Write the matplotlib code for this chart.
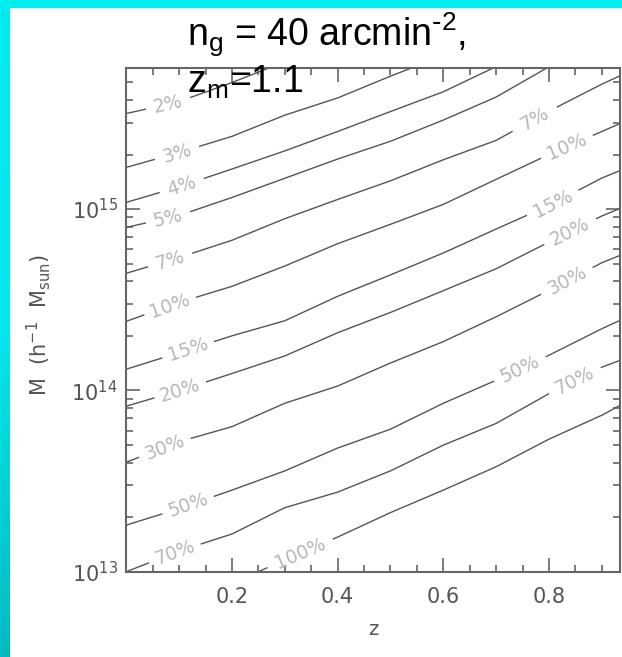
import numpy as np
import matplotlib.pyplot as plt
from matplotlib.colors import LinearSegmentedColormap
from matplotlib.patches import Rectangle
from matplotlib.ticker import FixedLocator, MultipleLocator, LogLocator, NullFormatter

plt.rcParams['font.family'] = ['DejaVu Sans']
plt.rcParams['mathtext.default'] = 'regular'

# contours of fractional mass error: z vs log10(M / h^-1 Msun)
z_2 = [0.0, 0.1, 0.2, 0.28]
logm_2 = [15.527, 15.593, 15.698, 15.79]

z_3 = [0.0, 0.1, 0.2, 0.3, 0.4, 0.5, 0.55]
logm_3 = [15.230, 15.312, 15.401, 15.518, 15.613, 15.733, 15.79]

z_4 = [0.0, 0.1, 0.2, 0.3, 0.4, 0.5, 0.6, 0.7]
logm_4 = [15.037, 15.123, 15.221, 15.321, 15.428, 15.538, 15.647, 15.786]

z_5 = [0.0, 0.1, 0.2, 0.3, 0.4, 0.5, 0.6, 0.7, 0.8]
logm_5 = [14.899, 14.965, 15.064, 15.170, 15.276, 15.374, 15.491, 15.618, 15.785]

z_full = [0.0, 0.1, 0.2, 0.3, 0.4, 0.5, 0.6, 0.7, 0.8, 0.9, 0.935]
logm_7 = [14.646, 14.733, 14.828, 14.947, 15.053, 15.156, 15.272, 15.379, 15.540, 15.689, 15.736]
logm_10 = [14.381, 14.485, 14.574, 14.686, 14.809, 14.916, 15.026, 15.164, 15.301, 15.428, 15.472]
logm_15 = [14.117, 14.208, 14.301, 14.384, 14.519, 14.637, 14.758, 14.890, 15.020, 15.171, 15.213]
logm_20 = [13.913, 13.999, 14.093, 14.190, 14.318, 14.430, 14.550, 14.671, 14.818, 14.962, 15.004]
logm_30 = [13.604, 13.717, 13.800, 13.929, 14.024, 14.151, 14.269, 14.406, 14.552, 14.704, 14.745]
logm_50 = [13.257, 13.348, 13.450, 13.556, 13.682, 13.786, 13.929, 14.056, 14.194, 14.340, 14.387]
logm_70 = [13.000, 13.114, 13.208, 13.353, 13.439, 13.556, 13.698, 13.818, 13.982, 14.128, 14.166]

z_100 = [0.25, 0.3, 0.4, 0.5, 0.6, 0.7, 0.8, 0.9, 0.935]
logm_100 = [13.0, 13.066, 13.191, 13.326, 13.450, 13.579, 13.731, 13.863, 13.918]

level_names = ['2%', '3%', '4%', '5%', '7%', '10%', '15%', '20%', '30%', '50%', '70%', '100%']
level_z = [z_2, z_3, z_4, z_5, z_full, z_full, z_full, z_full, z_full, z_full, z_full, z_100]
level_logm = [logm_2, logm_3, logm_4, logm_5, logm_7, logm_10, logm_15, logm_20,
              logm_30, logm_50, logm_70, logm_100]

# where each contour's labels sit along z
label_at = [[0.079], [0.096], [0.105], [0.079], [0.083, 0.773], [0.083, 0.834],
            [0.117, 0.807], [0.102, 0.840], [0.073, 0.834], [0.117, 0.745],
            [0.092, 0.849], [0.329]]

W, H = 622, 657
fig = plt.figure(figsize=(W / 100, H / 100), dpi=100)
fig.patch.set_facecolor('white')

# cyan frame of the slide
fig.patches.append(Rectangle((0, 1 - 8 / H), 1, 8 / H, transform=fig.transFigure,
                             facecolor='#00eef0', edgecolor='none'))
strip = fig.add_axes([0, 0, 10 / W, 1 - 8 / H])
strip.imshow(np.linspace(0, 1, 200).reshape(-1, 1), aspect='auto',
             cmap=LinearSegmentedColormap.from_list('c', ['#00eef0', '#00e8ec', '#00bcc2']))
strip.axis('off')

ax = fig.add_axes([126.3 / W, 1 - 571.7 / H, 494 / W, 503.7 / H])
ax.set_yscale('log')
ax.set_xlim(0, 0.935)
ax.set_ylim(1e13, 6e15)

line_color = '#555555'
text_gray = '#b8b8b8'

for name, zs, lm, centres in zip(level_names, level_z, level_logm, label_at):
    zs = np.array(zs)
    lm = np.array(lm)
    half = {2: 0.043, 3: 0.050, 4: 0.063}[len(name)]
    # pieces of the line left between the labels
    kept = []
    cur = zs[0]
    for c in sorted(centres):
        if c - half > cur:
            kept.append((cur, c - half))
        cur = max(cur, c + half)
    if cur < zs[-1]:
        kept.append((cur, zs[-1]))
    for a, b in kept:
        zz = np.concatenate([[a], zs[(zs > a) & (zs < b)], [b]])
        ax.plot(zz, 10 ** np.interp(zz, zs, lm), color=line_color, lw=1.0)
    for c in centres:
        p1 = ax.transData.transform((c - 0.02, 10 ** np.interp(c - 0.02, zs, lm)))
        p2 = ax.transData.transform((c + 0.02, 10 ** np.interp(c + 0.02, zs, lm)))
        ang = np.degrees(np.arctan2(p2[1] - p1[1], p2[0] - p1[0]))
        ax.text(c, 10 ** np.interp(c, zs, lm), name, rotation=ang, rotation_mode='anchor',
                ha='center', va='center', color=text_gray, fontsize=13.5)

ax.xaxis.set_major_locator(FixedLocator([0.2, 0.4, 0.6, 0.8]))
ax.xaxis.set_minor_locator(MultipleLocator(0.05))
ax.yaxis.set_major_locator(LogLocator(base=10))
ax.yaxis.set_minor_locator(LogLocator(base=10, subs=np.arange(2, 10)))
ax.yaxis.set_minor_formatter(NullFormatter())
ax.tick_params(which='both', direction='in', top=True, right=True,
               color='#666666', labelcolor='#555555', labelsize=15, width=1.2)
ax.tick_params(which='major', length=10)
ax.tick_params(which='minor', length=5)
ax.tick_params(axis='x', pad=11)
ax.tick_params(axis='y', pad=6)
for s in ax.spines.values():
    s.set_color('#666666')
    s.set_linewidth(1.5)

ax.set_xlabel('z', fontsize=14, color='#555555')
ax.set_ylabel('M  (h$^{-1}$  M$_{sun}$)', fontsize=15, color='#555555')
ax.xaxis.set_label_coords(0.5, -0.095)
ax.yaxis.set_label_coords(-0.148, 0.49)

fig.text(187 / W, 1 - 46 / H, r'n$_{g}$ = 40 arcmin$^{\text{-}2}$,', fontsize=27,
         family='Liberation Sans', color='black', ha='left', va='baseline')
fig.text(187 / W, 1 - 93 / H, 'z$_{m}$=1.1', fontsize=27,
         family='Liberation Sans', color='black', ha='left', va='baseline', zorder=5)

fig.savefig('out.png', dpi=100)
